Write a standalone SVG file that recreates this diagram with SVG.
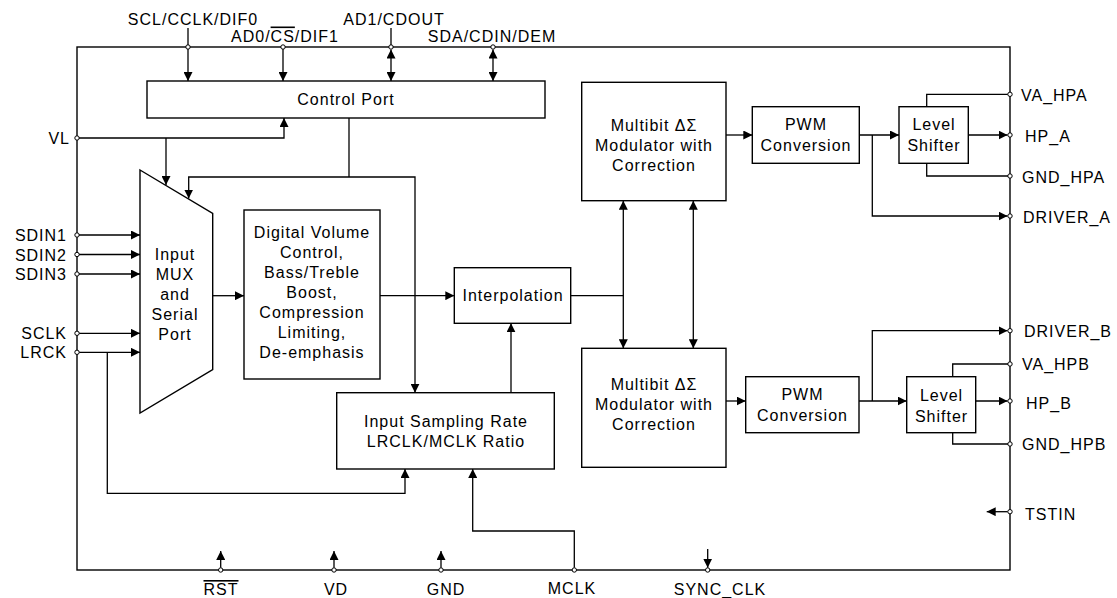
<svg xmlns="http://www.w3.org/2000/svg" width="1117" height="598" viewBox="0 0 1117 598">
<style>
.b{fill:#fff;stroke:#000;stroke-width:1.4}
.w{fill:none;stroke:#000;stroke-width:1.3}
.a{marker-end:url(#ar)}
.aa{marker-start:url(#ar);marker-end:url(#ar)}
.p{fill:#fff;stroke:#000;stroke-width:1}
text{font-family:"Liberation Sans",Arial,Helvetica,sans-serif;font-size:16px;letter-spacing:1px;fill:#000}
.c{text-anchor:middle}
.e{text-anchor:end}
.ov{text-decoration:overline}
</style>
<defs>
<marker id="ar" markerUnits="userSpaceOnUse" markerWidth="9" markerHeight="9" refX="9" refY="4.5" orient="auto-start-reverse">
<path d="M0,0 L9,4.5 L0,9 z" fill="#000"/>
</marker>
</defs>
<rect fill="#fff" width="1117" height="598"/>
<g id="chip"><rect class="b" x="77" y="47" width="933" height="523" fill="none"/></g>

<g id="connectors">
<line class="w a" x1="188" y1="28" x2="188" y2="81"/>
<line class="w a" x1="283" y1="47" x2="283" y2="81"/>
<line class="w" x1="391" y1="28" x2="391" y2="47"/>
<line class="w aa" x1="391" y1="49.5" x2="391" y2="81"/>
<line class="w aa" x1="493" y1="49.5" x2="493" y2="81"/>
<polyline class="w a" points="77,138 284,138 284,118"/>
<line class="w a" x1="166" y1="138" x2="166" y2="185"/>
<line class="w" x1="349" y1="118" x2="349" y2="177"/>
<path class="w aa" d="M188.7,198.5 V177 H415 V392.7"/>
<line class="w a" x1="77" y1="235" x2="140" y2="235"/>
<line class="w a" x1="77" y1="254.5" x2="140" y2="254.5"/>
<line class="w a" x1="77" y1="274" x2="140" y2="274"/>
<line class="w a" x1="77" y1="333.3" x2="140" y2="333.3"/>
<line class="w a" x1="77" y1="352.3" x2="140" y2="352.3"/>
<polyline class="w a" points="107.3,352.3 107.3,493.3 405,493.3 405,469"/>
<line class="w a" x1="212.7" y1="295.7" x2="244" y2="295.7"/>
<line class="w a" x1="380" y1="295.7" x2="454.3" y2="295.7"/>
<line class="w a" x1="511" y1="392.7" x2="511" y2="323.3"/>
<line class="w" x1="570.7" y1="295.7" x2="623.3" y2="295.7"/>
<line class="w aa" x1="623.3" y1="200.7" x2="623.3" y2="348.3"/>
<line class="w aa" x1="693.3" y1="200.7" x2="693.3" y2="348.3"/>
<line class="w a" x1="726" y1="135" x2="752.3" y2="135"/>
<line class="w a" x1="859.3" y1="135" x2="899" y2="135"/>
<polyline class="w a" points="872.3,135 872.3,216 1007.5,216"/>
<line class="w a" x1="968.3" y1="135" x2="1007.5" y2="135"/>
<polyline class="w" points="926.7,106.7 926.7,94.3 1010,94.3"/>
<polyline class="w" points="926.7,163.3 926.7,176 1010,176"/>
<line class="w a" x1="726" y1="401" x2="745.7" y2="401"/>
<line class="w a" x1="859" y1="401" x2="906.7" y2="401"/>
<polyline class="w a" points="872.3,401 872.3,330.7 1007.5,330.7"/>
<line class="w a" x1="975.7" y1="401" x2="1007.5" y2="401"/>
<polyline class="w" points="952.7,376.7 952.7,364 1010,364"/>
<polyline class="w" points="952.7,432.7 952.7,444 1010,444"/>
<line class="w a" x1="1007.7" y1="511.7" x2="986.7" y2="511.7"/>
<line class="w a" x1="220.7" y1="567.7" x2="220.7" y2="551"/>
<line class="w a" x1="334" y1="567.7" x2="334" y2="551"/>
<line class="w a" x1="441" y1="567.7" x2="441" y2="551"/>
<polyline class="w a" points="574.3,567.7 574.3,531 472.7,531 472.7,469"/>
<line class="w a" x1="707.7" y1="549" x2="707.7" y2="567.7"/>
</g>

<g id="pins">
<circle class="p" cx="188" cy="47" r="2.2"/>
<circle class="p" cx="283" cy="47" r="2.2"/>
<circle class="p" cx="391" cy="47" r="2.2"/>
<circle class="p" cx="493" cy="47" r="2.2"/>
<circle class="p" cx="77" cy="138" r="2.2"/>
<circle class="p" cx="77" cy="235" r="2.2"/>
<circle class="p" cx="77" cy="254.5" r="2.2"/>
<circle class="p" cx="77" cy="274" r="2.2"/>
<circle class="p" cx="77" cy="333.3" r="2.2"/>
<circle class="p" cx="77" cy="352.3" r="2.2"/>
<circle class="p" cx="1010" cy="94.3" r="2.2"/>
<circle class="p" cx="1010" cy="135" r="2.2"/>
<circle class="p" cx="1010" cy="176" r="2.2"/>
<circle class="p" cx="1010" cy="216" r="2.2"/>
<circle class="p" cx="1010" cy="330.7" r="2.2"/>
<circle class="p" cx="1010" cy="364" r="2.2"/>
<circle class="p" cx="1010" cy="401" r="2.2"/>
<circle class="p" cx="1010" cy="444" r="2.2"/>
<circle class="p" cx="1010" cy="511.7" r="2.2"/>
<circle class="p" cx="220.7" cy="570" r="2.2"/>
<circle class="p" cx="334" cy="570" r="2.2"/>
<circle class="p" cx="441" cy="570" r="2.2"/>
<circle class="p" cx="574.3" cy="570" r="2.2"/>
<circle class="p" cx="707.7" cy="570" r="2.2"/>
</g>

<g id="pin-labels">
<text class="c" x="193" y="25">SCL/CCLK/DIF0</text>
<text class="c" x="285" y="41.5">AD0/<tspan class="ov">CS</tspan>/DIF1</text>
<text class="c" x="394" y="25">AD1/CDOUT</text>
<text class="c" x="492" y="41.5">SDA/CDIN/DEM</text>
<text class="e" x="70" y="144">VL</text>
<text class="e" x="67" y="241">SDIN1</text>
<text class="e" x="67" y="260.5">SDIN2</text>
<text class="e" x="67" y="280">SDIN3</text>
<text class="e" x="67" y="339.3">SCLK</text>
<text class="e" x="67" y="358.3">LRCK</text>
<text x="1021" y="100.5">VA_HPA</text>
<text x="1025" y="142">HP_A</text>
<text x="1022" y="182.5">GND_HPA</text>
<text x="1023" y="222.5">DRIVER_A</text>
<text x="1024" y="337">DRIVER_B</text>
<text x="1022" y="370">VA_HPB</text>
<text x="1026" y="408.5">HP_B</text>
<text x="1022" y="450">GND_HPB</text>
<text x="1025" y="520">TSTIN</text>
<text class="c" x="221" y="595"><tspan class="ov">RST</tspan></text>
<text class="c" x="336" y="595">VD</text>
<text class="c" x="446" y="595">GND</text>
<text class="c" x="572" y="594">MCLK</text>
<text class="c" x="720" y="595">SYNC_CLK</text>
</g>

<g id="control-port">
<rect class="b" x="147" y="81" width="398" height="37"/>
<text class="c" x="346" y="105">Control Port</text>
</g>

<g id="input-mux">
<polygon class="b" points="140,170 212.7,213.5 212.7,369.5 140,413"/>
<text class="c" x="175" y="260">Input</text>
<text class="c" x="175" y="280">MUX</text>
<text class="c" x="175" y="300">and</text>
<text class="c" x="175" y="320">Serial</text>
<text class="c" x="175" y="340">Port</text>
</g>

<g id="digital-volume">
<rect class="b" x="244" y="210" width="136" height="169"/>
<text class="c" x="312" y="238">Digital Volume</text>
<text class="c" x="312" y="258">Control,</text>
<text class="c" x="312" y="278">Bass/Treble</text>
<text class="c" x="312" y="298">Boost,</text>
<text class="c" x="312" y="318">Compression</text>
<text class="c" x="312" y="338">Limiting,</text>
<text class="c" x="312" y="358">De-emphasis</text>
</g>

<g id="interpolation">
<rect class="b" x="454.3" y="267.7" width="116.4" height="55.6"/>
<text class="c" x="513" y="300.5">Interpolation</text>
</g>

<g id="sampling-rate">
<rect class="b" x="336.7" y="392.7" width="217.6" height="76.3"/>
<text class="c" x="446" y="426.5">Input Sampling Rate</text>
<text class="c" x="446" y="446.5">LRCLK/MCLK Ratio</text>
</g>

<g id="modulator-a">
<rect class="b" x="581.7" y="82.3" width="144.3" height="118.4"/>
<text class="c" x="654" y="131">Multibit ΔΣ</text>
<text class="c" x="654" y="151">Modulator with</text>
<text class="c" x="654" y="171">Correction</text>
</g>

<g id="modulator-b">
<rect class="b" x="581.7" y="348.3" width="144.3" height="119"/>
<text class="c" x="654" y="390">Multibit ΔΣ</text>
<text class="c" x="654" y="410">Modulator with</text>
<text class="c" x="654" y="430">Correction</text>
</g>

<g id="pwm-a">
<rect class="b" x="752.3" y="106.7" width="107" height="56.6"/>
<text class="c" x="806" y="130">PWM</text>
<text class="c" x="806" y="150.5">Conversion</text>
</g>

<g id="pwm-b">
<rect class="b" x="745.7" y="376.7" width="113.3" height="56"/>
<text class="c" x="802.5" y="400">PWM</text>
<text class="c" x="802.5" y="420.5">Conversion</text>
</g>

<g id="level-shifter-a">
<rect class="b" x="899" y="106.7" width="69.3" height="56.6"/>
<text class="c" x="934" y="130">Level</text>
<text class="c" x="934" y="150.5">Shifter</text>
</g>

<g id="level-shifter-b">
<rect class="b" x="906.7" y="376.7" width="69" height="56"/>
<text class="c" x="941.5" y="401">Level</text>
<text class="c" x="941.5" y="421.5">Shifter</text>
</g>
</svg>
